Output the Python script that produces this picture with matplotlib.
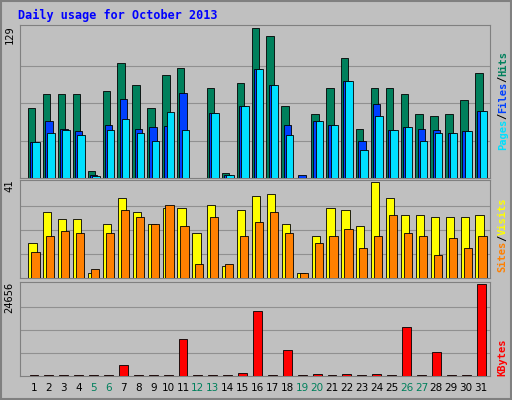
import matplotlib
matplotlib.use("Agg")
import matplotlib.pyplot as plt
import numpy as np

days = list(range(1, 32))
hits = [60, 72, 72, 72, 6, 75, 99, 80, 60, 89, 95, 0, 77, 4, 82, 129, 122, 62, 0, 55, 77, 103, 42, 77, 77, 72, 55, 53, 55, 67, 90]
files = [31, 49, 42, 40, 3, 46, 68, 42, 44, 45, 73, 0, 56, 3, 62, 94, 80, 46, 3, 49, 46, 83, 32, 64, 41, 44, 42, 41, 39, 40, 58]
pages = [31, 39, 41, 37, 2, 41, 51, 39, 32, 57, 41, 0, 56, 3, 62, 94, 80, 37, 0, 49, 46, 83, 24, 53, 41, 44, 32, 39, 39, 40, 58]
visits = [15, 28, 25, 25, 2, 23, 34, 28, 23, 30, 30, 19, 31, 5, 29, 35, 36, 23, 2, 18, 30, 29, 22, 41, 34, 27, 27, 26, 26, 26, 27]
sites = [11, 18, 20, 19, 4, 19, 29, 26, 23, 31, 22, 6, 26, 6, 18, 24, 28, 19, 2, 15, 18, 21, 13, 18, 27, 19, 18, 10, 17, 13, 18]
kbytes = [400, 400, 400, 400, 400, 400, 3000, 400, 400, 400, 9800, 400, 400, 400, 800, 17500, 400, 7000, 400, 500, 400, 600, 400, 500, 400, 13200, 400, 6300, 400, 400, 24656]
max_labels = ["129", "41", "24656"]
weekend = {5, 6, 12, 13, 19, 20, 26, 27}

BG = "#C0C0C0"
fig = plt.figure(figsize=(5.12, 4.0), dpi=100)
fig.patch.set_facecolor(BG)
fig.add_artist(plt.Rectangle((0.002, 0.002), 0.996, 0.996, transform=fig.transFigure,
                             fill=False, edgecolor="#808080", lw=1.5))
fig.text(0.035, 0.962, "Daily usage for October 2013", color="#0000FF",
         family="DejaVu Sans Mono", weight="bold", fontsize=8.5, va="center")

xl = (0.06, 31.6)
d = np.array(days)

def mkax(bottom, height, ymax):
    ax = fig.add_axes([0.039, bottom, 0.918, height])
    ax.set_facecolor(BG)
    ax.set_xlim(*xl)
    ax.set_ylim(0, ymax * 1.02)
    ax.set_xticks([]); ax.set_yticks([])
    for s in ax.spines.values():
        s.set_color("#808080")
    for f in (0.25, 0.5, 0.75):
        ax.axhline(ymax * f, color="#909090", lw=0.8, zorder=0)
    return ax

ek = dict(edgecolor="black", linewidth=0.6, zorder=3)
ax1 = mkax(0.555, 0.3825, 129)
ax1.bar(d - 0.15, hits, width=0.5, color="#00805C", **ek)
ax1.bar(d + 0.0, files, width=0.5, color="#0040FF", **ek)
ax1.bar(d + 0.15, pages, width=0.5, color="#00E0FF", **ek)

ax2 = mkax(0.305, 0.245, 41)
ax2.bar(d - 0.1, visits, width=0.55, color="#FFFF00", **ek)
ax2.bar(d + 0.1, sites, width=0.55, color="#FF8000", **ek)

ax3 = mkax(0.06, 0.235, 24656)
ax3.bar(d, kbytes, width=0.6, color="#FF0000", **ek)

for ax, lab in zip((ax1, ax2, ax3), max_labels):
    ax.text(-0.022, 1.0, lab, transform=ax.transAxes, rotation=90, ha="center",
            va="top", fontsize=7.5, family="DejaVu Sans Mono")

for day in days:
    fig.text(0.039 + 0.918 * (day - xl[0]) / (xl[1] - xl[0]), 0.03, str(day),
             ha="center", va="center", fontsize=7.5,
             color="#00805C" if day in weekend else "black")

def vlabel(y, parts):
    txt_y = y
    for t, c in parts:
        fig.text(0.982, txt_y, t, rotation=90, color=c, ha="center", va="bottom",
                 fontsize=7.5, family="DejaVu Sans Mono", weight="bold")
        txt_y += len(t) * 0.0155

vlabel(0.625, [("Pages", "#00E0FF"), ("/", "black"), ("Files", "#0040FF"), ("/", "black"), ("Hits", "#00805C")])
vlabel(0.32, [("Sites", "#FF8000"), ("/", "black"), ("Visits", "#FFFF00")])
vlabel(0.06, [("KBytes", "#FF0000")])

fig.savefig("out.png", dpi=100, facecolor=BG)
